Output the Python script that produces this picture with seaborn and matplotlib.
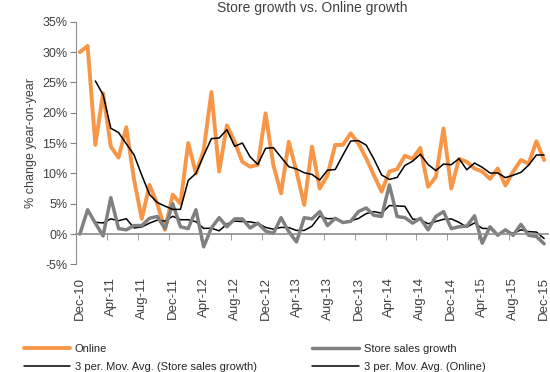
import numpy as np
import pandas as pd
import matplotlib
matplotlib.use("Agg")
import matplotlib.pyplot as plt
import seaborn as sns

# monthly year-on-year growth, Dec-10 .. Dec-15 (values in %)
months = pd.date_range("2010-12-01", periods=61, freq="MS")
online = [30.0, 31.0, 14.7, 23.2, 14.4, 12.6, 17.6, 9.0, 2.5, 8.1,
          5.0, 0.7, 6.5, 5.0, 15.0, 10.0, 13.8, 23.4, 10.3, 17.9,
          15.2, 11.9, 11.1, 11.4, 19.9, 11.4, 6.7, 15.2, 10.3, 4.8,
          14.4, 7.5, 9.7, 14.7, 14.7, 16.6, 14.9, 12.5, 9.7, 7.0,
          10.3, 10.7, 12.9, 12.4, 14.2, 7.8, 9.4, 17.4, 7.5, 12.4,
          11.9, 10.8, 10.3, 9.1, 10.8, 8.0, 10.3, 12.2, 11.6, 15.3, 12.2]
store = [0.0, 4.0, 1.8, -0.3, 6.0, 0.9, 0.7, 1.4, 1.4, 2.6,
         2.9, 0.9, 5.0, 1.2, 0.9, 4.0, -2.1, 1.0, 2.7, 1.2,
         2.5, 2.5, 1.0, 1.8, 0.5, 0.1, 2.7, 0.4, -1.3, 2.7,
         2.5, 3.7, 1.4, 2.6, 1.9, 2.1, 3.7, 4.3, 3.1, 2.9,
         8.1, 2.9, 2.7, 1.8, 2.6, 0.7, 2.9, 3.7, 0.9, 1.2,
         1.3, 3.0, -1.5, 1.2, -0.2, 0.7, -0.2, 1.6, -0.2, -0.4, -1.6]
labels = [m.strftime("%b-%y") for m in months]

df = pd.DataFrame({"idx": np.arange(len(months)), "online": online, "store": store})
df["ma_store"] = df["store"].rolling(3).mean()
df["ma_online"] = df["online"].rolling(3).mean()

sns.set_style("white")
plt.rcParams["font.family"] = ["Liberation Sans", "DejaVu Sans"]

fig = plt.figure(figsize=(5.5, 3.72), dpi=100)
ax = fig.add_axes([76 / 550, 1 - 264.4 / 372, 472 / 550, (264.4 - 21.7) / 372])

sns.lineplot(data=df, x="idx", y="online", ax=ax, color="#F79646", lw=2.8, label="Online")
sns.lineplot(data=df, x="idx", y="ma_store", ax=ax, color="black", lw=1.1,
             label="3 per. Mov. Avg. (Store sales growth)")
sns.lineplot(data=df, x="idx", y="store", ax=ax, color="#808080", lw=2.5, label="Store sales growth")
sns.lineplot(data=df, x="idx", y="ma_online", ax=ax, color="black", lw=1.1,
             label="3 per. Mov. Avg. (Online)")

ax.set_xlim(-0.5, 60.5)
ax.set_ylim(-5, 35)
yt = np.arange(-5, 36, 5)
ax.set_yticks(yt)
ax.set_yticklabels([f"{v}%" for v in yt], fontsize=9, color="#404040")
ax.tick_params(axis="y", direction="out", length=4, color="#808080", left=True, pad=2)

gray = "#8c8c8c"
for s in ["top", "right"]:
    ax.spines[s].set_visible(False)
ax.spines["left"].set_color(gray)
ax.spines["bottom"].set_position(("data", 0))
ax.spines["bottom"].set_color(gray)
ax.spines["bottom"].set_linewidth(1.2)

# tick marks between categories, labels every 4 months
ax.set_xticks(np.arange(0, 61, 4))
ax.set_xticklabels([])
ax.tick_params(axis="x", which="major", length=0)
ax.set_xticks(np.arange(3.5, 60, 4), minor=True)
ax.tick_params(axis="x", which="minor", direction="out", length=4, color=gray, bottom=True)

sec = ax.secondary_xaxis("bottom")
sec.spines["bottom"].set_visible(False)
sec.set_xticks(np.arange(0, 61, 4))
sec.set_xticklabels(labels[::4], rotation=90, fontsize=9.5, color="#404040")
sec.tick_params(length=0, pad=9)

ax.set_xlabel("")
ax.set_ylabel("% change year-on-year", fontsize=9, color="#404040", labelpad=4)
ax.set_title("Store growth vs. Online growth", fontsize=10, color="#404040", pad=7)

ax.legend(loc="upper left", bbox_to_anchor=(-0.12, -0.31), ncol=2, frameon=False,
          fontsize=8, handlelength=4.2, columnspacing=5.0, labelspacing=0.7,
          handletextpad=0.4, borderaxespad=0)

fig.savefig("out.png", dpi=100)
